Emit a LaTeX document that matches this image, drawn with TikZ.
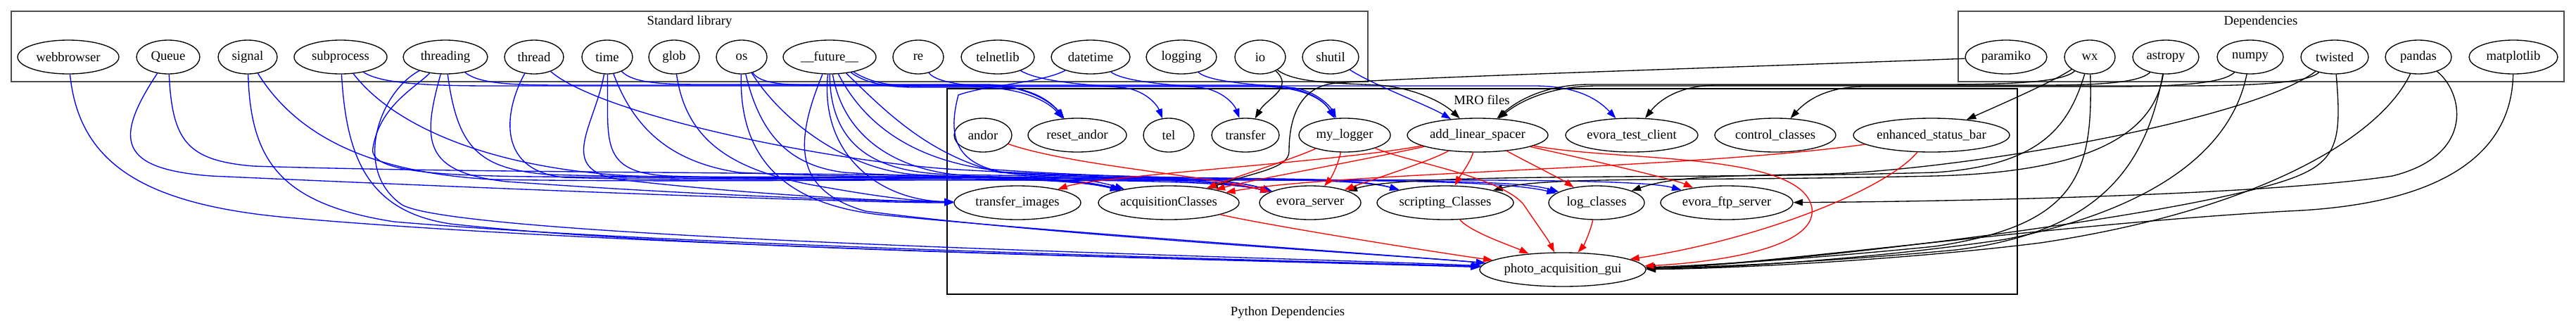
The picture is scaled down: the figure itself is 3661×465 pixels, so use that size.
\documentclass[tikz,border=0pt]{standalone}
\usepackage{fontspec}
\setmainfont{Liberation Serif}
\usetikzlibrary{shapes.geometric,arrows.meta}

\begin{document}
\begin{tikzpicture}[x=0.75pt,y=-0.75pt,
    mod/.style={draw, ellipse, minimum height=36pt, line width=1pt, font=\fontsize{14}{17}\selectfont},
    lbl/.style={font=\fontsize{14}{17}\selectfont},
    cluster/.style={draw=black!70, line width=1.6pt},
    mrobox/.style={draw=black, line width=1pt},
    stdedge/.style={draw=blue, line width=1pt, -{Triangle[length=10pt,width=7pt]}},
    depedge/.style={draw=black, line width=1pt, -{Triangle[length=10pt,width=7pt]}},
    mroedge/.style={draw=red, line width=1pt, -{Triangle[length=10pt,width=7pt]}}]
      \tikzstyle{every node}+=[inner sep=0pt]
      \useasboundingbox (0,0) rectangle (3661,465);
      % clusters
      \draw [cluster] (16,16) rectangle (1944,116);
      \draw [cluster] (2783,16) rectangle (3644,116);
      \draw [mrobox] (1346,126) rectangle (2867,418);
      \node [lbl] (stdlabel) at (980,31) {Standard library};
      \node [lbl] (deplabel) at (3213,31) {Dependencies};
      \node [lbl] (mrolabel) at (2106,142) {MRO files};
      \node [lbl] (title) at (1830,444) {Python Dependencies};
      % standard library
      \node [mod, minimum width=108pt] (webbrowser) at (97,81) {webbrowser};
      \node [mod, minimum width=67.5pt] (queue) at (239,81) {Queue};
      \node [mod, minimum width=63pt] (signal) at (352,81) {signal};
      \node [mod, minimum width=99pt] (subprocess) at (484,81) {subprocess};
      \node [mod, minimum width=90pt] (threading) at (633,81) {threading};
      \node [mod, minimum width=63pt] (thread) at (759,81) {thread};
      \node [mod, minimum width=54pt] (time) at (863,81) {time};
      \node [mod, minimum width=54pt] (glob) at (958,81) {glob};
      \node [mod, minimum width=54pt] (os) at (1054,81) {os};
      \node [mod, minimum width=99pt] (future) at (1179,81) {\_\_future\_\_};
      \node [mod, minimum width=54pt] (re) at (1305,81) {re};
      \node [mod, minimum width=78pt] (telnetlib) at (1418,81) {telnetlib};
      \node [mod, minimum width=84pt] (datetime) at (1550,81) {datetime};
      \node [mod, minimum width=75pt] (logging) at (1679,81) {logging};
      \node [mod, minimum width=54pt] (io) at (1791,81) {io};
      \node [mod, minimum width=60pt] (shutil) at (1891,81) {shutil};
      % dependencies
      \node [mod, minimum width=87pt] (paramiko) at (2851,81) {paramiko};
      \node [mod, minimum width=54pt] (wx) at (2970,81) {wx};
      \node [mod, minimum width=70.5pt] (astropy) at (3078,81) {astropy};
      \node [mod, minimum width=70.5pt] (numpy) at (3198,81) {numpy};
      \node [mod, minimum width=72pt] (twisted) at (3318,81) {twisted};
      \node [mod, minimum width=70.5pt] (pandas) at (3437,81) {pandas};
      \node [mod, minimum width=94.5pt] (matplotlib) at (3572,81) {matplotlib};
      % MRO files
      \node [mod, minimum width=61.5pt] (andor) at (1397,192) {andor};
      \node [mod, minimum width=105pt] (resetandor) at (1531,192) {reset\_andor};
      \node [mod, minimum width=54pt] (tel) at (1661,192) {tel};
      \node [mod, minimum width=72pt] (transfer) at (1770,192) {transfer};
      \node [mod, minimum width=97.5pt] (mylogger) at (1911,192) {my\_logger};
      \node [mod, minimum width=150pt] (addlinearspacer) at (2100,192) {add\_linear\_spacer};
      \node [mod, minimum width=141pt] (evoratestclient) at (2319,192) {evora\_test\_client};
      \node [mod, minimum width=129pt] (controlclasses) at (2523,192) {control\_classes};
      \node [mod, minimum width=166.5pt] (enhancedstatusbar) at (2745,192) {enhanced\_status\_bar};
      \node [mod, minimum width=135pt] (transferimages) at (1446,288) {transfer\_images};
      \node [mod, minimum width=150pt] (acquisitionclasses) at (1661,288) {acquisitionClasses};
      \node [mod, minimum width=108pt] (evoraserver) at (1862,288) {evora\_server};
      \node [mod, minimum width=145.5pt] (scriptingclasses) at (2054,288) {scripting\_Classes};
      \node [mod, minimum width=102pt] (logclasses) at (2269,288) {log\_classes};
      \node [mod, minimum width=141pt] (evoraftpserver) at (2454,288) {evora\_ftp\_server};
      \node [mod, minimum width=177pt] (photogui) at (2221,383) {photo\_acquisition\_gui};
      % standard library imports
      \draw [stdedge] (webbrowser) .. controls (112,230) and (200,292) .. (420,310) .. controls (900,352) and (1850,372) .. (photogui);
      \draw [stdedge] (queue) .. controls (160,200) and (170,240) .. (300,250) .. controls (700,268) and (1200,288) .. (transferimages);
      \draw [stdedge] (queue) .. controls (245,200) and (265,228) .. (360,236) .. controls (800,250) and (1480,240) .. (acquisitionclasses);
      \draw [stdedge] (signal) .. controls (356,230) and (400,290) .. (560,315) .. controls (1000,352) and (1850,370) .. (photogui);
      \draw [stdedge] (signal) .. controls (420,190) and (520,245) .. (700,255) .. controls (1100,262) and (1700,245) .. (evoraserver);
      \draw [stdedge] (subprocess) .. controls (492,220) and (520,300) .. (640,318) .. controls (1000,358) and (1850,370) .. (photogui);
      \draw [stdedge] (subprocess) .. controls (560,180) and (700,240) .. (900,250) .. controls (1600,265) and (2300,245) .. (evoraftpserver);
      \draw [stdedge] (subprocess) .. controls (540,118) and (600,122) .. (700,122) -- (2180,122) .. controls (2240,122) and (2270,140) .. (evoratestclient);
      \draw [stdedge] (threading) .. controls (540,130) and (500,240) .. (570,290) .. controls (640,340) and (1850,366) .. (photogui);
      \draw [stdedge] (threading) .. controls (600,200) and (600,245) .. (720,258) .. controls (1000,278) and (1250,286) .. (transferimages);
      \draw [stdedge] (threading) .. controls (650,210) and (680,240) .. (780,248) .. controls (1100,258) and (1480,240) .. (acquisitionclasses);
      \draw [stdedge] (threading) .. controls (590,125) and (540,150) .. (530,210) .. controls (520,255) and (700,250) .. (900,252) .. controls (1500,262) and (1900,245) .. (scriptingclasses);
      \draw [stdedge] (threading) .. controls (680,118) and (720,121) .. (800,121) -- (1790,121) .. controls (1850,121) and (1880,140) .. (mylogger);
      \draw [stdedge] (thread) .. controls (720,150) and (700,240) .. (800,252) .. controls (1100,262) and (1480,242) .. (acquisitionclasses);
      \draw [stdedge] (thread) .. controls (850,160) and (1150,225) .. (1346,240) .. controls (1700,262) and (2100,248) .. (logclasses);
      \draw [stdedge] (time) .. controls (845,180) and (790,240) .. (880,255) .. controls (1050,275) and (1250,286) .. (transferimages);
      \draw [stdedge] (time) .. controls (865,200) and (850,245) .. (950,250) .. controls (1200,258) and (1480,242) .. (acquisitionclasses);
      \draw [stdedge] (time) .. controls (900,180) and (950,230) .. (1050,245) .. controls (1300,258) and (1700,245) .. (evoraserver);
      \draw [stdedge] (time) .. controls (900,118) and (940,120) .. (1000,120) -- (1400,120) .. controls (1450,120) and (1490,140) .. (resetandor);
      \draw [stdedge] (glob) .. controls (975,200) and (1040,240) .. (1150,262) .. controls (1250,280) and (1300,286) .. (transferimages);
      \draw [stdedge] (os) .. controls (1050,230) and (1120,290) .. (1250,305) .. controls (1500,330) and (1950,360) .. (photogui);
      \draw [stdedge] (os) .. controls (1080,190) and (1120,235) .. (1200,245) .. controls (1350,255) and (1500,245) .. (acquisitionclasses);
      \draw [stdedge] (os) .. controls (1110,170) and (1200,240) .. (1300,248) .. controls (1500,258) and (1700,245) .. (evoraserver);
      \draw [stdedge] (os) .. controls (1080,118) and (1110,121) .. (1160,121) -- (1400,121) .. controls (1450,121) and (1490,140) .. (resetandor);
      \draw [stdedge] (future) .. controls (1130,200) and (1125,270) .. (1230,300) .. controls (1500,335) and (1950,360) .. (photogui);
      \draw [stdedge] (future) .. controls (1165,220) and (1250,285) .. (transferimages);
      \draw [stdedge] (future) .. controls (1180,220) and (1260,245) .. (1350,248) .. controls (1450,250) and (1530,248) .. (acquisitionclasses);
      \draw [stdedge] (future) .. controls (1200,200) and (1280,245) .. (1380,250) .. controls (1550,256) and (1720,245) .. (evoraserver);
      \draw [stdedge] (future) .. controls (1230,180) and (1300,225) .. (1400,240) .. controls (1700,262) and (1900,245) .. (scriptingclasses);
      \draw [stdedge] (future) .. controls (1260,160) and (1320,220) .. (1420,245) .. controls (1800,265) and (2130,248) .. (logclasses);
      \draw [stdedge] (future) .. controls (1240,119) and (1270,123) .. (1320,123) -- (1790,123) .. controls (1850,123) and (1880,140) .. (mylogger);
      \draw [stdedge] (future) .. controls (1230,118) and (1260,124) .. (1300,124) -- (1420,124) .. controls (1460,124) and (1490,140) .. (resetandor);
      \draw [stdedge] (re) .. controls (1330,118) and (1380,122) .. (1420,126) .. controls (1460,130) and (1490,145) .. (resetandor);
      \draw [stdedge] (telnetlib) .. controls (1480,118) and (1560,121) .. (1600,125) .. controls (1630,130) and (1645,150) .. (tel);
      \draw [stdedge] (datetime) .. controls (1480,118) and (1400,121) .. (1362,135) .. controls (1345,200) and (1360,240) .. (1450,248) .. controls (1600,255) and (1730,248) .. (evoraserver);
      \draw [stdedge] (datetime) .. controls (1600,118) and (1680,121) .. (1710,125) .. controls (1740,130) and (1755,150) .. (transfer);
      \draw [stdedge] (logging) .. controls (1720,118) and (1800,121) .. (1840,125) .. controls (1870,130) and (1890,150) .. (mylogger);
      \draw [stdedge] (shutil) .. controls (1950,120) and (2030,150) .. (addlinearspacer);
      % dependency imports
      \draw [depedge] (io) .. controls (1840,125) and (1800,140) .. (transfer);
      \draw [depedge] (io) .. controls (1840,118) and (1900,118) .. (1960,121) .. controls (2010,125) and (2050,145) .. (addlinearspacer);
      \draw [depedge] (paramiko) .. controls (2400,98) and (2000,110) .. (1900,118) .. controls (1840,122) and (1832,180) .. (1832,215) .. controls (1832,240) and (1780,245) .. (acquisitionclasses);
      \draw [depedge] (wx) .. controls (2930,118) and (2850,120) .. (2750,120) -- (2260,120) .. controls (2200,120) and (2160,140) .. (addlinearspacer);
      \draw [depedge] (twisted) .. controls (3280,118) and (3200,122) .. (3100,122) -- (2270,122) .. controls (2210,122) and (2165,140) .. (addlinearspacer);
      \draw [depedge] (astropy) .. controls (3040,118) and (2980,121) .. (2900,121) -- (2440,121) .. controls (2390,121) and (2360,140) .. (evoratestclient);
      \draw [depedge] (numpy) .. controls (3160,118) and (3100,123) .. (3000,123) -- (2650,123) .. controls (2600,123) and (2570,140) .. (controlclasses);
      \draw [depedge] (wx) .. controls (2920,115) and (2840,150) .. (enhancedstatusbar);
      \draw [depedge] (wx) .. controls (2940,180) and (2900,235) .. (2750,245) .. controls (2400,255) and (2000,245) .. (evoraserver);
      \draw [depedge] (wx) .. controls (2975,250) and (2950,320) .. (2750,350) .. controls (2550,370) and (2400,378) .. (photogui);
      \draw [depedge] (astropy) .. controls (3050,240) and (2980,330) .. (2780,355) .. controls (2600,372) and (2420,380) .. (photogui);
      \draw [depedge] (astropy) .. controls (3060,200) and (2950,245) .. (2750,250) .. controls (2400,258) and (2200,250) .. (scriptingclasses);
      \draw [depedge] (numpy) .. controls (3170,220) and (3050,300) .. (2850,340) .. controls (2650,370) and (2420,382) .. (photogui);
      \draw [depedge] (twisted) .. controls (3200,170) and (2800,240) .. (2600,247) .. controls (2450,250) and (2380,250) .. (logclasses);
      \draw [depedge] (twisted) .. controls (3330,220) and (3320,240) .. (3200,270) .. controls (3000,320) and (2500,378) .. (photogui);
      \draw [depedge] (pandas) .. controls (3500,130) and (3520,220) .. (3400,250) .. controls (3200,280) and (2700,287) .. (evoraftpserver);
      \draw [depedge] (pandas) .. controls (3380,200) and (3200,300) .. (2900,345) .. controls (2700,370) and (2450,382) .. (photogui);
      \draw [depedge] (matplotlib) .. controls (3570,200) and (3500,290) .. (3250,300) .. controls (2900,320) and (2500,378) .. (photogui);
      % MRO imports
      \draw [mroedge] (andor) .. controls (1520,235) and (1720,250) .. (evoraserver);
      \draw [mroedge] (mylogger) .. controls (1840,225) and (1760,250) .. (acquisitionclasses);
      \draw [mroedge] (mylogger) .. controls (1900,240) and (1890,255) .. (evoraserver);
      \draw [mroedge] (mylogger) .. controls (2000,230) and (2130,250) .. (2165,290) .. controls (2185,320) and (2200,340) .. (photogui);
      \draw [mroedge] (addlinearspacer) .. controls (1900,230) and (1560,250) .. (transferimages);
      \draw [mroedge] (addlinearspacer) .. controls (1900,235) and (1780,255) .. (acquisitionclasses);
      \draw [mroedge] (addlinearspacer) .. controls (2030,230) and (1950,255) .. (evoraserver);
      \draw [mroedge] (addlinearspacer) .. controls (2090,230) and (2075,250) .. (scriptingclasses);
      \draw [mroedge] (addlinearspacer) .. controls (2170,230) and (2220,255) .. (logclasses);
      \draw [mroedge] (addlinearspacer) .. controls (2250,225) and (2380,255) .. (evoraftpserver);
      \draw [mroedge] (addlinearspacer) .. controls (2300,230) and (2560,215) .. (2575,295) .. controls (2585,360) and (2400,375) .. (photogui);
      \draw [mroedge] (enhancedstatusbar) .. controls (2400,240) and (1900,245) .. (acquisitionclasses);
      \draw [mroedge] (enhancedstatusbar) .. controls (2680,270) and (2500,340) .. (photogui);
      \draw [mroedge] (acquisitionclasses) .. controls (1800,320) and (2050,360) .. (photogui);
      \draw [mroedge] (scriptingclasses) .. controls (2090,330) and (2150,350) .. (photogui);
      \draw [mroedge] (logclasses) .. controls (2260,330) and (2250,350) .. (photogui);
\end{tikzpicture}
\end{document}
